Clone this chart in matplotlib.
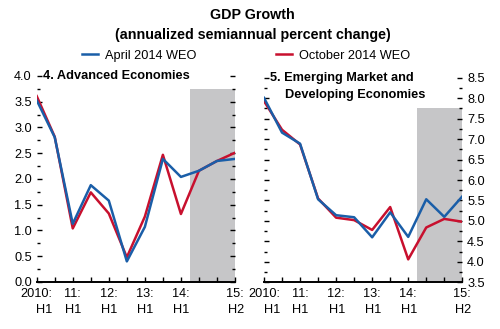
import numpy as np
import matplotlib
matplotlib.use('Agg')
import matplotlib.pyplot as plt
from matplotlib.lines import Line2D
from matplotlib.ticker import MultipleLocator

plt.rcParams['font.family'] = ['Liberation Sans', 'DejaVu Sans']

######## DATA ##########
periods = ['10H1', '10H2', '11H1', '11H2', '12H1', '12H2',
           '13H1', '13H2', '14H1', '14H2', '15H1', '15H2']
tick_pos = [0, 2, 4, 6, 8, 11]
tick_labels = ['2010:\nH1', '11:\nH1', '12:\nH1', '13:\nH1', '14:\nH1', '15:\nH2']

adv_april = [3.53, 2.81, 1.13, 1.88, 1.58, 0.40, 1.07, 2.39, 2.04, 2.16, 2.35, 2.39]
adv_oct = [3.61, 2.82, 1.04, 1.74, 1.33, 0.48, 1.27, 2.47, 1.32, 2.16, 2.35, 2.51]
em_april = [8.01, 7.16, 6.89, 5.53, 5.14, 5.09, 4.60, 5.21, 4.61, 5.53, 5.10, 5.60]
em_oct = [7.93, 7.23, 6.87, 5.55, 5.08, 5.02, 4.78, 5.34, 4.06, 4.84, 5.05, 4.98]

blue = '#1a5ea8'
red = '#c8102e'
shade = '#c6c6c8'
fs = 9.2

######### FIGURE #############
fig = plt.figure(figsize=(5, 3.29), dpi=100)
ax1 = fig.add_axes([0.0734, 0.1429, 0.3966, 0.6261])
ax2 = fig.add_axes([0.528, 0.142, 0.3966, 0.6215])

x = np.arange(len(periods))

def style(ax, ylo, yhi, shade_top):
    ax.axvspan(8.5, 11, ymin=0, ymax=(shade_top - ylo) / (yhi - ylo),
               color=shade, lw=0, zorder=0)
    ax.set_xlim(0, 11)
    ax.set_ylim(ylo, yhi)
    for s in ['left', 'right', 'top']:
        ax.spines[s].set_visible(False)
    ax.spines['bottom'].set_linewidth(1.4)
    ax.set_xticks(x, minor=True)
    ax.set_xticks(tick_pos)
    ax.set_xticklabels(tick_labels, fontsize=fs, linespacing=1.45,
                       multialignment='right')
    ax.tick_params(axis='x', which='both', direction='in', length=3.6, width=1, pad=4)
    ax.yaxis.set_major_locator(MultipleLocator(0.5))
    ax.yaxis.set_minor_locator(MultipleLocator(0.25))
    ax.tick_params(axis='y', which='major', direction='in', length=3.6, width=1,
                   left=True, right=True, labelsize=fs, pad=3.5)
    ax.tick_params(axis='y', which='minor', direction='in', length=2.2, width=1,
                   left=True, right=True)
    ax.yaxis.set_major_formatter(plt.FormatStrFormatter('%.1f'))

style(ax1, 0, 4, 3.75)
ax1.plot(x, adv_oct, color=red, lw=1.8, zorder=3)
ax1.plot(x, adv_april, color=blue, lw=1.8, zorder=4)
ax1.tick_params(axis='y', labelleft=True, labelright=False)
ax1.text(0.37, 4.0, '4. Advanced Economies', fontsize=fs, fontweight='bold',
         ha='left', va='center')

style(ax2, 3.5, 8.5, 7.75)
ax2.plot(x, em_oct, color=red, lw=1.8, zorder=3)
ax2.plot(x, em_april, color=blue, lw=1.8, zorder=4)
ax2.tick_params(axis='y', labelleft=False, labelright=True)
ax2.text(0.33, 8.5, '5. Emerging Market and', fontsize=fs, fontweight='bold',
         ha='left', va='center')
ax2.text(1.16, 8.07, 'Developing Economies', fontsize=fs, fontweight='bold',
         ha='left', va='center')

fig.text(0.505, 0.954, 'GDP Growth', fontsize=10.3, fontweight='bold',
         ha='center', va='center')
fig.text(0.505, 0.893, '(annualized semiannual percent change)', fontsize=10.3,
         fontweight='bold', ha='center', va='center')

handles = [Line2D([], [], color=blue, lw=1.8), Line2D([], [], color=red, lw=1.8)]
fig.legend(handles, ['April 2014 WEO', 'October 2014 WEO'], ncol=2,
           loc='center left', bbox_to_anchor=(0.164, 0.83), frameon=False,
           fontsize=fs, handlelength=1.25, handletextpad=0.55, columnspacing=6.2,
           borderpad=0, borderaxespad=0)

fig.savefig('out.png', dpi=100)
